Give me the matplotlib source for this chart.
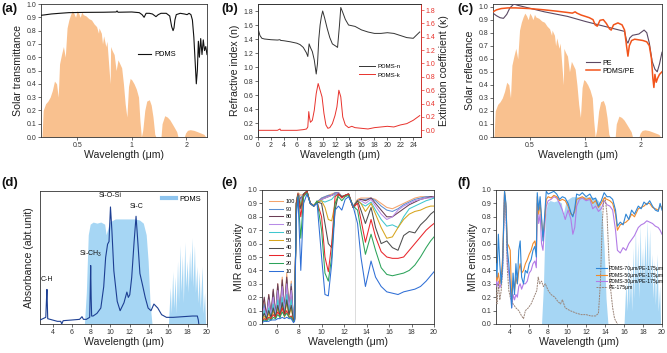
import matplotlib
matplotlib.use("Agg")
import matplotlib.pyplot as plt
from matplotlib.lines import Line2D
import numpy as np

plt.rcParams['font.family'] = ['Liberation Sans', 'DejaVu Sans']
plt.rcParams['mathtext.fontset'] = 'custom'
plt.rcParams['mathtext.rm'] = 'Liberation Sans'
plt.rcParams['mathtext.default'] = 'regular'

# ---------------- data ----------------
solar_wl = [0.32, 0.325, 0.335, 0.345, 0.355, 0.365, 0.375, 0.385, 0.393, 0.40,
            0.41, 0.42, 0.43, 0.44, 0.45, 0.46, 0.47, 0.48, 0.49, 0.50,
            0.51, 0.52, 0.53, 0.54, 0.56, 0.58, 0.60, 0.62, 0.64, 0.656,
            0.66, 0.68, 0.69, 0.70, 0.72, 0.73, 0.76, 0.765, 0.78, 0.80,
            0.82, 0.84, 0.86, 0.88, 0.90, 0.92, 0.94, 0.96, 0.98, 1.00,
            1.03, 1.06, 1.09, 1.11, 1.13, 1.15, 1.18, 1.21, 1.25, 1.28,
            1.31, 1.34, 1.36, 1.45, 1.47, 1.52, 1.57, 1.62, 1.67, 1.72,
            1.77, 1.80, 1.95, 1.98, 2.03, 2.10, 2.20, 2.30, 2.40, 2.50, 2.56]
solar_v = [0.0, 0.2, 0.25, 0.27, 0.3, 0.35, 0.42, 0.40, 0.30, 0.55,
           0.62, 0.68, 0.60, 0.82, 0.88, 0.92, 0.95, 0.93, 0.90, 0.95,
           0.93, 0.90, 0.94, 0.92, 0.91, 0.89, 0.88, 0.85, 0.83, 0.78,
           0.82, 0.78, 0.70, 0.76, 0.68, 0.72, 0.40, 0.68, 0.65, 0.62,
           0.50, 0.58, 0.55, 0.52, 0.40, 0.25, 0.15, 0.38, 0.44, 0.43,
           0.40, 0.36, 0.30, 0.12, 0.0, 0.05, 0.20, 0.27, 0.28, 0.24,
           0.15, 0.02, 0.0, 0.0, 0.10, 0.16, 0.15, 0.13, 0.10, 0.07,
           0.04, 0.0, 0.0, 0.03, 0.05, 0.055, 0.05, 0.04, 0.03, 0.02, 0.0]

pdms_t_wl = [0.316, 0.33, 0.36, 0.40, 0.45, 0.55, 0.70, 0.82, 0.83, 0.84,
             1.0, 1.10, 1.14, 1.17, 1.20, 1.25, 1.30, 1.36, 1.40, 1.45,
             1.55, 1.62, 1.66, 1.69, 1.71, 1.73, 1.76, 1.85, 1.95, 2.02,
             2.07, 2.12, 2.16, 2.20, 2.24, 2.27, 2.30, 2.33, 2.36, 2.40,
             2.44, 2.48, 2.52, 2.56, 2.6]
pdms_t = [0.915, 0.918, 0.925, 0.93, 0.935, 0.937, 0.938, 0.94, 0.948, 0.938,
          0.94, 0.935, 0.92, 0.90, 0.93, 0.93, 0.925, 0.905, 0.92, 0.93,
          0.93, 0.91, 0.83, 0.80, 0.82, 0.88, 0.92, 0.93, 0.925, 0.92,
          0.93, 0.92, 0.88, 0.75, 0.55, 0.40, 0.50, 0.72, 0.60, 0.74,
          0.62, 0.73, 0.65, 0.68, 0.62]

n_wl = [0, 0.3, 0.6, 1, 2, 3, 3.4, 3.5, 4, 5,
        6, 6.5, 7, 7.5, 7.7, 7.9, 8.1, 8.4, 8.7, 9.0,
        9.2, 9.4, 9.6, 9.8, 10.0, 10.3, 10.7, 11.1, 11.5, 12.0,
        12.3, 12.6, 12.8, 13.1, 13.5, 14, 15, 16, 17, 18,
        19, 20, 21, 22, 23, 24, 25]
n_val = [1.55, 1.45, 1.41, 1.40, 1.39, 1.385, 1.39, 1.38, 1.375, 1.36,
         1.34, 1.32, 1.28, 1.2, 1.15, 1.33, 1.28, 1.22, 1.1, 0.9,
         1.05, 1.4, 1.6, 1.72, 1.8, 1.7, 1.55, 1.42, 1.33, 1.3,
         1.28, 1.6, 1.85, 1.78, 1.68, 1.6, 1.58, 1.53, 1.5, 1.48,
         1.48, 1.49, 1.48, 1.45, 1.42, 1.41, 1.5]
k_wl = [0, 1, 2, 3, 3.4, 3.5, 4, 5, 6, 7,
        7.5, 7.7, 7.85, 7.95, 8.1, 8.4, 8.7, 9.0, 9.3, 9.6,
        9.9, 10.2, 10.5, 10.8, 11.1, 11.5, 11.9, 12.2, 12.5, 12.8,
        13.1, 13.5, 14, 14.5, 15, 16, 17, 18, 19, 20,
        21, 22, 23, 24, 25]
k_val = [0, 0, 0, 0, 0.02, 0, 0, 0, 0, 0.01,
         0.02, 0.05, 0.28, 0.2, 0.12, 0.15, 0.3, 0.55, 0.7, 0.6,
         0.5, 0.25, 0.08, 0.03, 0.04, 0.1, 0.22, 0.35, 0.6, 0.5,
         0.2, 0.08, 0.04, 0.06, 0.04, 0.03, 0.02, 0.04, 0.05, 0.06,
         0.05, 0.08, 0.1, 0.15, 0.22]

pe_c_wl = [0.316, 0.33, 0.345, 0.36, 0.375, 0.39, 0.41, 0.43, 0.6, 0.8,
           1.0, 1.3, 1.63, 1.67, 1.70, 1.74, 1.8, 1.95, 2.08, 2.15,
           2.22, 2.3, 2.38, 2.45, 2.52, 2.6]
pe_c_v = [0.95, 0.93, 0.915, 0.91, 0.94, 0.99, 1.02, 1.01, 0.96, 0.925,
          0.886, 0.845, 0.81, 0.74, 0.72, 0.76, 0.78, 0.79, 0.82, 0.8,
          0.72, 0.58, 0.52, 0.5, 0.56, 0.65]
pp_c_wl = [0.316, 0.33, 0.35, 0.38, 0.42, 0.5, 0.6, 0.7, 0.8, 0.85,
           0.88, 0.9, 0.95, 1.0, 1.05, 1.1, 1.13, 1.16, 1.2, 1.25,
           1.3, 1.35, 1.38, 1.42, 1.5, 1.58, 1.63, 1.67, 1.70, 1.73,
           1.78, 1.85, 1.95, 2.05, 2.15, 2.22, 2.28, 2.32, 2.35, 2.38,
           2.42, 2.46, 2.52, 2.6]
pp_c_v = [0.96, 0.975, 0.985, 0.99, 0.99, 0.985, 0.975, 0.965, 0.955, 0.95,
          0.96, 0.95, 0.935, 0.925, 0.915, 0.9, 0.86, 0.85, 0.895, 0.9,
          0.87, 0.83, 0.82, 0.86, 0.875, 0.86, 0.82, 0.7, 0.62, 0.7,
          0.74, 0.75, 0.745, 0.74, 0.73, 0.7, 0.6, 0.45, 0.38, 0.48,
          0.42, 0.45, 0.48, 0.5]

atm_wl = [7.3, 7.5, 7.7, 7.9, 8.2, 8.6, 9.0, 9.4, 9.55, 9.7,
          9.9, 10.5, 11.5, 12.5, 13.0, 13.4, 13.7, 13.9, 14.1, 14.3,
          16.0, 16.2, 16.3, 16.45, 16.55, 16.7, 16.8, 16.95, 17.05, 17.2,
          17.3, 17.45, 17.55, 17.7, 17.8, 17.95, 18.05, 18.2, 18.3, 18.45,
          18.55, 18.7, 18.8, 18.95, 19.05, 19.2, 19.3, 19.5, 19.6, 19.75,
          19.85, 20.0]
atm_t = [0, 0.3, 0.85, 0.95, 0.97, 0.96, 0.97, 0.95, 0.85, 0.90,
         0.97, 1.0, 1.0, 1.0, 0.99, 0.96, 0.85, 0.6, 0.2, 0.0,
         0.0, 0.35, 0.1, 0.5, 0.15, 0.45, 0.1, 0.6, 0.2, 0.75,
         0.3, 0.65, 0.2, 0.78, 0.35, 0.6, 0.3, 0.7, 0.4, 0.82,
         0.35, 0.75, 0.3, 0.55, 0.2, 0.5, 0.15, 0.55, 0.1, 0.3,
         0.0, 0.0]

abs_wl = [2.7, 3.0, 3.3, 3.38, 3.42, 3.5, 4.0, 4.5, 4.85, 4.95,
          5.1, 6.0, 6.8, 7.05, 7.2, 7.5, 7.85, 7.95, 8.0, 8.05,
          8.2, 8.6, 9.0, 9.3, 9.5, 9.7, 9.85, 10.0, 10.15, 10.35,
          10.7, 11.0, 11.4, 11.7, 11.85, 12.0, 12.2, 12.45, 12.65, 12.85,
          13.05, 13.3, 13.6, 13.9, 14.2, 14.5, 14.9, 15.3, 15.8, 16.5,
          17.5, 18.5, 19.0, 19.1, 19.15]
abs_v = [0.03, 0.04, 0.05, 0.2, 0.26, 0.04, 0.03, 0.02, 0.02, 0.0,
         0.025, 0.03, 0.035, 0.055, 0.035, 0.035, 0.05, 0.44, 0.2, 0.06,
         0.06, 0.08, 0.12, 0.28, 0.5, 0.6, 0.62, 0.88, 0.7, 0.4,
         0.17, 0.1, 0.16, 0.24, 0.2, 0.22, 0.35, 0.62, 0.81, 0.6,
         0.38, 0.3, 0.2, 0.12, 0.1, 0.15, 0.12, 0.07, 0.05, 0.05,
         0.055, 0.06, 0.06, 0.03, 0.0]
abs_labels = ["C-H", "Si-CH$_3$", "Si-O-Si", "Si-C"]
abs_label_x = [3.45, 7.95, 9.95, 12.7]
abs_label_y = [0.31, 0.49, 0.94, 0.86]

e_wl = [4.7, 4.9, 5.1, 5.3, 5.5, 5.7, 5.9, 6.1, 6.3, 6.5,
        6.7, 6.9, 7.1, 7.3, 7.5, 7.6, 7.75, 7.9, 8.15, 8.4,
        8.7, 9.0, 9.3, 9.6, 10.0, 10.3, 10.6, 10.9, 11.2, 11.5,
        11.8, 12.1, 12.4, 12.8, 13.2, 13.5, 13.9, 14.4, 14.8, 15.3,
        15.8, 16.3, 16.8, 17.3, 17.8, 18.3, 18.8, 19.3, 19.7, 20.0]
e_labels = ["100", "90", "80", "70", "60", "50", "40", "30", "20", "10"]
e_100 = [0.02, 0.18, 0.03, 0.22, 0.04, 0.25, 0.05, 0.30, 0.06, 0.35, 0.08, 0.38, 0.10, 0.32, 0.03,
         0.04, 0.92, 0.98, 0.96, 0.97, 0.99, 0.9, 0.89, 0.91, 0.94, 0.95, 0.96, 0.97, 0.98, 0.98,
         0.95, 0.96, 0.97, 0.88, 0.93, 0.94, 0.94, 0.94, 0.93, 0.9, 0.87, 0.86, 0.88, 0.9, 0.92,
         0.94, 0.95, 0.95, 0.95, 0.95]
e_90 = [0.05, 0.15, 0.02, 0.20, 0.03, 0.24, 0.04, 0.28, 0.05, 0.30, 0.06, 0.33, 0.08, 0.30, 0.03,
        0.04, 0.9, 0.97, 0.94, 0.97, 0.99, 0.9, 0.88, 0.91, 0.94, 0.95, 0.96, 0.96, 0.98, 0.98,
        0.95, 0.96, 0.97, 0.88, 0.92, 0.93, 0.93, 0.94, 0.92, 0.88, 0.85, 0.84, 0.86, 0.89, 0.91,
        0.93, 0.94, 0.95, 0.95, 0.94]
e_80 = [0.10, 0.20, 0.06, 0.22, 0.08, 0.26, 0.07, 0.30, 0.10, 0.33, 0.12, 0.35, 0.12, 0.28, 0.04,
        0.04, 0.9, 0.97, 0.93, 0.97, 0.99, 0.9, 0.88, 0.91, 0.93, 0.94, 0.95, 0.96, 0.97, 0.98,
        0.95, 0.96, 0.97, 0.87, 0.92, 0.93, 0.92, 0.94, 0.9, 0.85, 0.8, 0.8, 0.83, 0.86, 0.89,
        0.91, 0.93, 0.94, 0.95, 0.95]
e_70 = [0.08, 0.12, 0.05, 0.18, 0.06, 0.20, 0.06, 0.25, 0.07, 0.28, 0.10, 0.30, 0.12, 0.25, 0.04,
        0.04, 0.9, 0.97, 0.92, 0.97, 0.99, 0.9, 0.88, 0.91, 0.93, 0.94, 0.95, 0.96, 0.97, 0.98,
        0.95, 0.96, 0.97, 0.87, 0.92, 0.92, 0.9, 0.93, 0.88, 0.82, 0.78, 0.8, 0.85, 0.88, 0.9,
        0.92, 0.93, 0.94, 0.94, 0.95]
e_60 = [0.03, 0.10, 0.02, 0.12, 0.04, 0.15, 0.04, 0.18, 0.05, 0.20, 0.06, 0.22, 0.08, 0.18, 0.03,
        0.04, 0.9, 0.97, 0.9, 0.97, 0.99, 0.9, 0.88, 0.91, 0.92, 0.91, 0.92, 0.93, 0.96, 0.97,
        0.95, 0.96, 0.97, 0.87, 0.92, 0.9, 0.88, 0.91, 0.85, 0.78, 0.73, 0.74, 0.72, 0.8, 0.86,
        0.88, 0.9, 0.92, 0.93, 0.94]
e_50 = [0.02, 0.06, 0.03, 0.08, 0.03, 0.10, 0.04, 0.12, 0.05, 0.14, 0.05, 0.16, 0.06, 0.12, 0.02,
        0.03, 0.9, 0.97, 0.88, 0.97, 0.99, 0.9, 0.88, 0.91, 0.92, 0.87, 0.78, 0.77, 0.9, 0.97,
        0.95, 0.96, 0.97, 0.87, 0.92, 0.9, 0.84, 0.9, 0.82, 0.72, 0.64, 0.65, 0.72, 0.78, 0.82,
        0.84, 0.85, 0.87, 0.88, 0.88]
e_40 = [0.04, 0.08, 0.04, 0.10, 0.05, 0.12, 0.05, 0.14, 0.06, 0.16, 0.07, 0.18, 0.07, 0.14, 0.03,
        0.03, 0.9, 0.97, 0.86, 0.97, 0.99, 0.9, 0.88, 0.91, 0.9, 0.75, 0.6, 0.57, 0.85, 0.97,
        0.95, 0.96, 0.97, 0.87, 0.92, 0.85, 0.75, 0.87, 0.72, 0.6, 0.62, 0.57, 0.55, 0.66, 0.69,
        0.68, 0.74, 0.78, 0.82, 0.84]
e_30 = [0.02, 0.04, 0.03, 0.05, 0.04, 0.07, 0.05, 0.09, 0.06, 0.12, 0.06, 0.10, 0.05, 0.06, 0.02,
        0.03, 0.88, 0.97, 0.8, 0.96, 0.99, 0.9, 0.88, 0.91, 0.8, 0.5, 0.39, 0.6, 0.95, 0.97,
        0.94, 0.96, 0.97, 0.87, 0.9, 0.78, 0.61, 0.78, 0.65, 0.54, 0.5, 0.49, 0.49, 0.5, 0.55,
        0.6, 0.65, 0.7, 0.73, 0.75]
e_20 = [0.02, 0.03, 0.02, 0.04, 0.03, 0.05, 0.04, 0.07, 0.05, 0.09, 0.06, 0.08, 0.05, 0.05, 0.02,
        0.03, 0.85, 0.96, 0.64, 0.95, 0.98, 0.9, 0.88, 0.92, 0.7, 0.38, 0.32, 0.5, 0.9, 0.95,
        0.92, 0.95, 0.96, 0.88, 0.85, 0.7, 0.52, 0.67, 0.55, 0.42, 0.37, 0.36, 0.37, 0.38, 0.4,
        0.44, 0.5, 0.57, 0.62, 0.65]
e_10 = [0.01, 0.02, 0.02, 0.02, 0.03, 0.03, 0.03, 0.04, 0.04, 0.05, 0.04, 0.05, 0.04, 0.04, 0.01,
        0.02, 0.8, 0.95, 0.4, 0.9, 0.97, 0.9, 0.88, 0.9, 0.5, 0.22, 0.21, 0.45, 0.85, 0.88,
        0.85, 0.93, 0.95, 0.88, 0.75, 0.5, 0.28, 0.47, 0.35, 0.28, 0.24, 0.23, 0.22, 0.24, 0.25,
        0.26, 0.28, 0.32, 0.36, 0.39]

f_wl = [2.5, 2.6, 2.75, 2.9, 3.05, 3.2, 3.4, 3.55, 3.7, 3.85,
        4.0, 4.15, 4.3, 4.45, 4.6, 4.75, 4.9, 5.05, 5.2, 5.4,
        5.6, 5.8, 6.0, 6.2, 6.4, 6.6, 6.75, 6.85, 7.0, 7.15,
        7.3, 7.45, 7.6, 7.8, 8.0, 8.3, 8.6, 8.9, 9.2, 9.5,
        9.8, 10.1, 10.4, 10.6, 10.8, 11.0, 11.3, 11.6, 12.0, 12.4,
        12.7, 13.0, 13.3, 13.6, 13.9, 14.2, 14.5, 14.8, 15.1, 15.3,
        15.6, 15.9, 16.2, 16.5, 16.8, 17.1, 17.5, 17.8, 18.1, 18.4,
        18.7, 19.0, 19.3, 19.6, 19.8, 20.0]
f_70 = [0.45, 0.35, 0.67, 0.45, 0.3, 0.45, 0.99, 0.9, 0.55, 0.45,
        0.3, 0.12, 0.38, 0.22, 0.45, 0.3, 0.55, 0.62, 0.35, 0.3,
        0.4, 0.38, 0.45, 0.48, 0.55, 0.58, 0.5, 0.98, 0.85, 0.95,
        0.8, 0.62, 0.78, 0.99, 0.97, 0.98, 0.99, 0.97, 0.93, 0.95,
        0.94, 0.9, 0.83, 0.8, 0.86, 0.97, 0.96, 0.98, 0.95, 0.97,
        0.93, 0.94, 0.88, 0.92, 0.98, 0.95, 0.95, 0.93, 0.85, 0.73,
        0.76, 0.74, 0.82, 0.78, 0.85, 0.82, 0.88, 0.86, 0.91, 0.89,
        0.92, 0.88, 0.85, 0.84, 0.9, 0.85]
f_50 = [0.4, 0.32, 0.38, 0.3, 0.35, 0.5, 0.99, 0.88, 0.6, 0.58,
        0.55, 0.18, 0.32, 0.25, 0.35, 0.3, 0.4, 0.45, 0.38, 0.4,
        0.45, 0.48, 0.52, 0.55, 0.6, 0.62, 0.55, 0.95, 0.82, 0.9,
        0.78, 0.65, 0.75, 0.93, 0.95, 0.94, 0.96, 0.95, 0.92, 0.93,
        0.92, 0.88, 0.82, 0.81, 0.84, 0.93, 0.94, 0.95, 0.93, 0.94,
        0.9, 0.92, 0.87, 0.9, 0.94, 0.93, 0.92, 0.9, 0.82, 0.7,
        0.74, 0.75, 0.76, 0.78, 0.82, 0.8, 0.86, 0.87, 0.88, 0.9,
        0.9, 0.87, 0.86, 0.85, 0.88, 0.87]
f_30 = [0.35, 0.28, 0.32, 0.27, 0.3, 0.42, 0.97, 0.85, 0.45, 0.38,
        0.3, 0.12, 0.22, 0.18, 0.22, 0.2, 0.28, 0.3, 0.26, 0.3,
        0.3, 0.32, 0.38, 0.4, 0.45, 0.47, 0.42, 0.9, 0.75, 0.82,
        0.6, 0.55, 0.7, 0.88, 0.92, 0.93, 0.95, 0.94, 0.9, 0.85,
        0.78, 0.85, 0.78, 0.67, 0.72, 0.88, 0.93, 0.94, 0.92, 0.93,
        0.86, 0.88, 0.84, 0.86, 0.92, 0.89, 0.88, 0.85, 0.7, 0.55,
        0.53, 0.57, 0.55, 0.6, 0.63, 0.66, 0.72, 0.74, 0.75, 0.77,
        0.76, 0.75, 0.73, 0.72, 0.7, 0.67]
pe_f_wl = [2.5, 2.6, 2.75, 2.9, 3.05, 3.2, 3.4, 3.55, 3.7, 3.85,
           4.0, 4.3, 4.6, 4.9, 5.2, 5.4, 5.6, 5.9, 6.2, 6.5,
           6.8, 6.95, 7.1, 7.3, 7.5, 7.7, 8.0, 8.3, 8.7, 9.0,
           9.3, 9.5, 9.8, 10.3, 11.0, 11.5, 12.0, 12.5, 13.0, 13.3,
           13.5, 13.7, 13.85, 14.0, 14.2, 14.4, 14.6, 14.8, 15.0, 15.3]
pe_f_v = [0.28, 0.15, 0.3, 0.18, 0.25, 0.4, 0.98, 0.85, 0.4, 0.25,
          0.2, 0.15, 0.12, 0.1, 0.06, 0.04, 0.1, 0.12, 0.15, 0.2,
          0.25, 0.35, 0.3, 0.32, 0.28, 0.3, 0.25, 0.22, 0.2, 0.17,
          0.15, 0.18, 0.12, 0.1, 0.08, 0.07, 0.07, 0.06, 0.06, 0.08,
          0.3, 0.75, 0.92, 0.95, 0.82, 0.5, 0.25, 0.12, 0.04, 0.0]
f_labels = ["PDMS-70μm/PE-175μm", "PDMS-50μm/PE-175μm", "PDMS-30μm/PE-175μm", "PE-175μm"]

# ---------------- styling ----------------
W, H = 667, 353
fig = plt.figure(figsize=(W / 100, H / 100), dpi=100)

SOLAR = '#f9c18f'
ATM = '#a6d6f4'
TXT = '#222222'
TICK_FS = 5
LAB_FS = 7.6


def rect(l, t, r, b):
    return [l / W, 1 - b / H, (r - l) / W, (b - t) / H]


def style(ax):
    for s in ax.spines.values():
        s.set_linewidth(0.6)
        s.set_color('#333333')
    ax.tick_params(direction='out', length=2, width=0.5, labelsize=TICK_FS,
                   pad=1.5, colors='#333333')


def plabel(x, y, s):
    fig.text(x / W, 1 - y / H, s, fontsize=9.5, fontweight='bold',
             va='center', ha='left', color='#111111')


def solar_axes(ax):
    ax.set_xscale('log')
    ax.set_xlim(0.316, 2.6)
    ax.set_xticks([0.5, 1, 2])
    ax.set_xticklabels(['0.5', '1', '2'])
    ax.xaxis.set_minor_locator(matplotlib.ticker.NullLocator())
    ax.fill_between(solar_wl, solar_v, 0, color=SOLAR, lw=0, zorder=1)
    ax.set_yticks(np.arange(0, 1.01, 0.1))
    ax.yaxis.set_major_formatter(matplotlib.ticker.FormatStrFormatter('%.1f'))
    ax.set_xlabel('Wavelength (μm)', fontsize=LAB_FS, labelpad=1, color=TXT)


# (a)
ax = fig.add_axes(rect(41, 4, 207, 137))
style(ax)
solar_axes(ax)
ax.set_ylim(0, 1.0)
ax.plot(pdms_t_wl, pdms_t, color='#111111', lw=0.8, label='PDMS', zorder=3)
ax.set_ylabel('Solar transmittance', fontsize=LAB_FS, labelpad=2, color=TXT)
ax.legend(loc='center left', bbox_to_anchor=(0.56, 0.62), frameon=False,
          fontsize=5.4, handlelength=1.8, handletextpad=0.4, borderpad=0)
plabel(1, 9, '(a)')

# (b)
ax = fig.add_axes(rect(258, 4, 421, 137))
style(ax)
ax.plot(n_wl, n_val, color='#333333', lw=0.7, label='PDMS-n')
ax.set_xlim(0, 25.2)
ax.set_ylim(0, 1.9)
ax.set_xticks(np.arange(0, 25, 2))
ax.set_yticks(np.arange(0, 1.81, 0.2))
ax.yaxis.set_major_formatter(matplotlib.ticker.FormatStrFormatter('%.1f'))
ax.set_xlabel('Wavelength (μm)', fontsize=LAB_FS, labelpad=1, color=TXT)
ax.set_ylabel('Refractive index (n)', fontsize=LAB_FS, labelpad=2, color=TXT)
ax2 = ax.twinx()
style(ax2)
RED = '#e8322c'
ax2.plot(k_wl, k_val, color=RED, lw=0.7, label='PDMS-k')
ax2.set_ylim(-0.1, 1.89)
ax2.set_yticks(np.arange(0, 1.81, 0.2))
ax2.yaxis.set_major_formatter(matplotlib.ticker.FormatStrFormatter('%.1f'))
ax2.tick_params(axis='y', colors=RED, labelcolor=RED)
ax2.spines['right'].set_color(RED)
ax2.set_ylabel('Extinction coefficient (κ)', fontsize=LAB_FS, labelpad=2, color=TXT)
h1 = Line2D([], [], color='#333333', lw=0.7)
h2 = Line2D([], [], color=RED, lw=0.7)
ax.legend([h1, h2], ['PDMS-n', 'PDMS-k'], loc='center left',
          bbox_to_anchor=(0.6, 0.5), frameon=False, fontsize=4.4,
          handlelength=2.6, handletextpad=0.4, borderpad=0, labelspacing=0.6)
plabel(221, 9, '(b)')

# (c)
ax = fig.add_axes(rect(493, 4, 662, 137))
style(ax)
solar_axes(ax)
ax.set_ylim(0, 1.02)
ax.plot(pe_c_wl, pe_c_v, color='#5a4862', lw=0.8, label='PE', zorder=3)
ax.plot(pp_c_wl, pp_c_v, color='#f2541b', lw=1.1, label='PDMS/PE', zorder=4)
ax.set_ylabel('Solar reflectance', fontsize=LAB_FS, labelpad=2, color=TXT)
ax.legend(loc='center left', bbox_to_anchor=(0.53, 0.525), frameon=False,
          fontsize=5, handlelength=2.0, handletextpad=0.3, borderpad=0,
          labelspacing=0.15)
plabel(457, 9, '(c)')

# (d)
ax = fig.add_axes(rect(40, 191, 207, 324))
style(ax)
ax.fill_between(atm_wl, [v * 0.79 for v in atm_t], 0, color=ATM, lw=0, zorder=1)
ax.plot(abs_wl, abs_v, color='#1d3f93', lw=0.8, zorder=3)
for s, x, y in zip(abs_labels, abs_label_x, abs_label_y):
    ax.text(x, y, s, fontsize=5, ha='center', va='bottom', color='#111111')
ax.set_xlim(2.7, 20)
ax.set_ylim(0, 1.0)
ax.set_xticks(np.arange(4, 21, 2))
ax.set_yticks([])
ax.set_xlabel('Wavelength (μm)', fontsize=LAB_FS, labelpad=1, color=TXT)
ax.set_ylabel('Absorbance (abt.unit)', fontsize=LAB_FS, labelpad=4, color=TXT)
ax.legend([Line2D([], [], color='#8ec4ee', lw=3)], ['PDMS'], loc='center left',
          bbox_to_anchor=(0.71, 0.94), frameon=False, fontsize=5.4,
          handlelength=1.8, handletextpad=0.5, borderpad=0)
plabel(1, 183, '(d)')

# (e)
ax = fig.add_axes(rect(262, 190, 434, 324))
style(ax)
e_colors = ['#f4a36b', '#5b8fd0', '#6a3d55', '#b78be6', '#3fc7cf',
            '#d7a51e', '#4d4d4d', '#e8262c', '#2ca35a', '#2f6fd6']
e_series = [e_100, e_90, e_80, e_70, e_60, e_50, e_40, e_30, e_20, e_10]
ax.axvline(13, color='#cfcfcf', lw=0.5, zorder=0)
for lab, col, vals in zip(e_labels, e_colors, e_series):
    ax.plot(e_wl, vals, color=col, lw=0.75, label=lab)
ax.set_xlim(4.7, 20)
ax.set_ylim(0, 1.0)
ax.set_xticks(np.arange(6, 21, 2))
ax.set_yticks(np.arange(0, 1.01, 0.1))
ax.yaxis.set_major_formatter(matplotlib.ticker.FormatStrFormatter('%.1f'))
ax.set_xlabel('Wavelength (μm)', fontsize=LAB_FS, labelpad=1, color=TXT)
ax.set_ylabel('MIR emissivity', fontsize=LAB_FS, labelpad=2, color=TXT)
ax.legend(loc='upper left', bbox_to_anchor=(0.025, 0.955), frameon=False,
          fontsize=4, handlelength=2.5, handletextpad=0.5, borderpad=0,
          labelspacing=0.5)
plabel(221, 183, '(e)')

# (f)
ax = fig.add_axes(rect(496, 190, 662, 324))
style(ax)
ax.fill_between(atm_wl, [v * 0.95 for v in atm_t], 0, color=ATM, lw=0, zorder=1)
ax.plot(f_wl, f_70, color='#2f86d6', lw=0.8, label=f_labels[0], zorder=5)
ax.plot(f_wl, f_50, color='#f08a2a', lw=0.8, label=f_labels[1], zorder=4)
ax.plot(f_wl, f_30, color='#b27be6', lw=0.8, label=f_labels[2], zorder=3)
ax.plot(pe_f_wl, pe_f_v, color='#9a8478', lw=0.7, ls=(0, (2, 0.8)),
        label=f_labels[3], zorder=3)
ax.set_xlim(2.5, 20)
ax.set_ylim(0, 1.0)
ax.set_xticks(np.arange(4, 21, 2))
ax.set_yticks(np.arange(0, 1.01, 0.1))
ax.yaxis.set_major_formatter(matplotlib.ticker.FormatStrFormatter('%.1f'))
ax.set_xlabel('Wavelength (μm)', fontsize=LAB_FS, labelpad=1, color=TXT)
ax.set_ylabel('MIR emissivity', fontsize=LAB_FS, labelpad=2, color=TXT)
ax.legend(loc='upper left', bbox_to_anchor=(0.585, 0.45), frameon=False,
          fontsize=3.7, handlelength=2.3, handletextpad=0.3, borderpad=0,
          labelspacing=0.25)
plabel(457, 183, '(f)')

fig.savefig('out.png', dpi=100)
